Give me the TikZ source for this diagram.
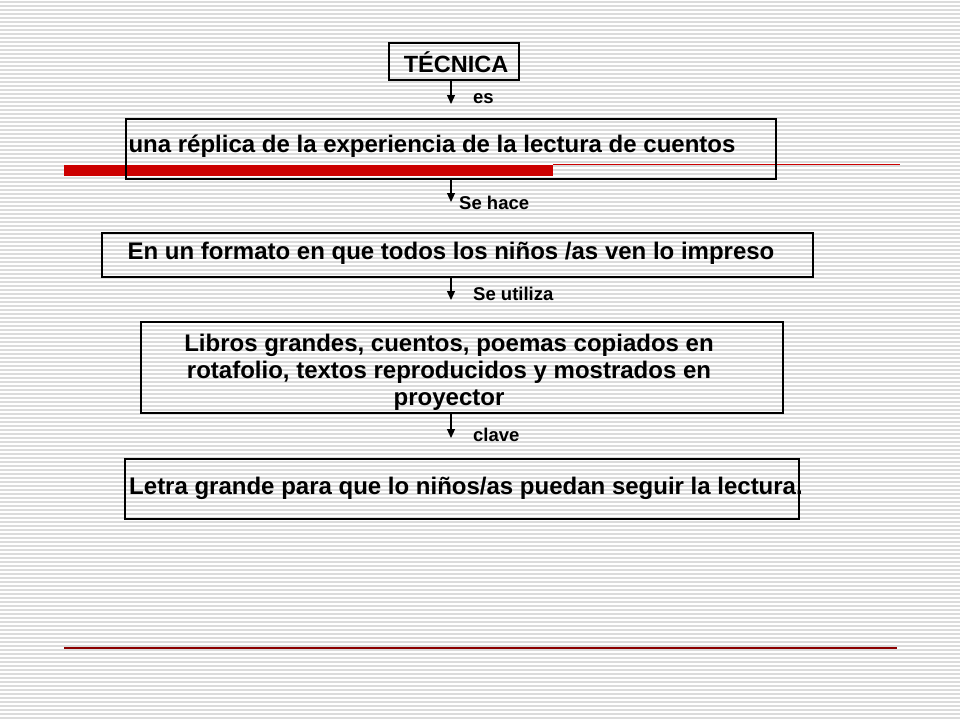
\documentclass[tikz,border=0pt]{standalone}
\usepackage{fontspec}
\setmainfont{Liberation Sans}
\usetikzlibrary{arrows.meta}
\begin{document}
\begin{tikzpicture}[x=1pt,y=-1pt,
  boxst/.style={draw=black,line width=1.1pt,inner sep=0pt},
  maintxt/.style={font=\bfseries\fontsize{24}{27}\selectfont,inner sep=0pt,anchor=base},
  lbl/.style={font=\bfseries\fontsize{18.5}{20}\selectfont,inner sep=0pt,anchor=base west},
  arr/.style={-{Triangle[length=9pt,width=8pt]},line width=1.2pt}]
\useasboundingbox (0,0) rectangle (960,720);
\fill[white] (0,0) rectangle (960,720);
\foreach \y in {0,4,...,716} \fill[black!14] (0,\y+1) rectangle (960,\y+2.5);
% red decorations
\fill[red!80!black] (64,165) rectangle (553,176);
\draw[red!80!black,line width=1pt] (553,164.5) -- (900,164.5);
\draw[red!55!black,line width=1.6pt] (64,648) -- (897,648);
% boxes
\draw[boxst] (389,43) rectangle (519,80);
\draw[boxst] (126,119) rectangle (776,179);
\draw[boxst] (102,233) rectangle (813,277);
\draw[boxst] (141,322) rectangle (783,413);
\draw[boxst] (125,459) rectangle (799,519);
\coordinate (b1s) at (451,80);
\coordinate (b2s) at (451,179);
\coordinate (b3s) at (451,277);
\coordinate (b4s) at (451,413);
\coordinate (e1) at (451,104);
\coordinate (e2) at (451,202);
\coordinate (e3) at (451,300);
\coordinate (e4) at (451,438);
% texts
\node[maintxt,font=\bfseries\fontsize{23.5}{26}\selectfont] (t1) at (456,72) {TÉCNICA};
\node[maintxt] (t2) at (432,152) {una réplica de la experiencia de la lectura de cuentos};
\node[maintxt] (t3) at (451,259) {En un formato en que todos los niños /as ven lo impreso};
\node[maintxt] (t4a) at (449,351) {Libros grandes, cuentos, poemas copiados en};
\node[maintxt] (t4b) at (449,378) {rotafolio, textos reproducidos y mostrados en};
\node[maintxt] (t4c) at (449,405) {proyector};
\node[maintxt] (t5) at (466,494) {Letra grande para que lo niños/as puedan seguir la lectura.};
% arrows
\draw[arr] (b1s) -- (e1);
\draw[arr] (b2s) -- (e2);
\draw[arr] (b3s) -- (e3);
\draw[arr] (b4s) -- (e4);
% labels
\node[lbl] (l1) at (473,103) {es};
\node[lbl] (l2) at (459,209) {Se hace};
\node[lbl] (l3) at (473,300) {Se utiliza};
\node[lbl] (l4) at (473,441) {clave};
\end{tikzpicture}
\end{document}
